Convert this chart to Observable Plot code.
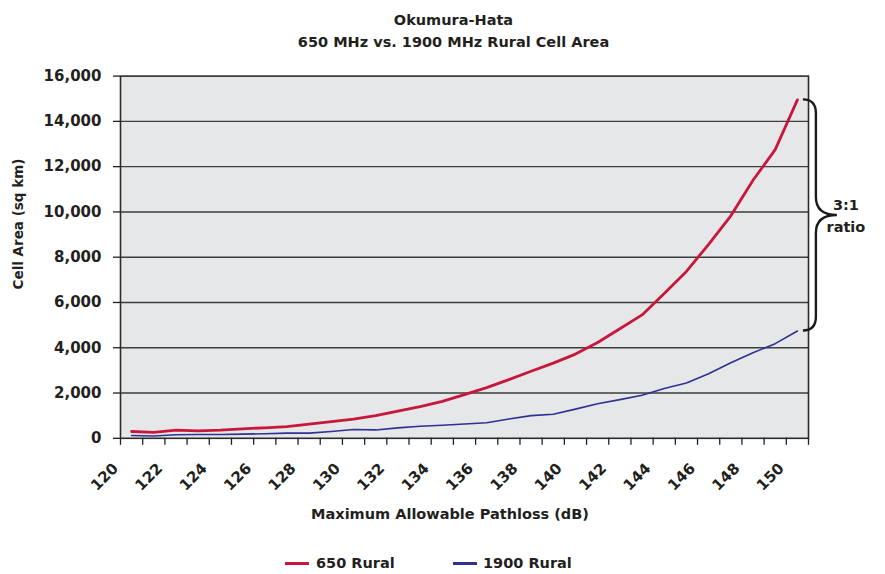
<!DOCTYPE html>
<html>
<head>
<meta charset="utf-8">
<script src="https://cdn.jsdelivr.net/npm/d3@7"></script>
<script src="https://cdn.jsdelivr.net/npm/@observablehq/plot@0.6"></script>
<style>
  body { margin: 0; background: #fff; font-family: "DejaVu Sans", sans-serif; font-weight: bold; color: #231f20; }
  #wrap { position: relative; width: 885px; height: 574px; overflow: hidden; }
  #title { position: absolute; left: 22px; top: 0; width: 863px; text-align: center; font-size: 14.5px; line-height: 22px; padding-top: 9px; }
  #chart { position: absolute; left: 0; top: 58px; }
  .key { position: absolute; top: 553px; font-size: 14.5px; line-height: 20px; white-space: nowrap; }
  .swatch { position: absolute; width: 24px; height: 3px; top: 9px; }
</style>
</head>
<body>
<div id="wrap">
  <div id="title">Okumura-Hata<br>650 MHz vs. 1900 MHz Rural Cell Area</div>
  <div id="chart"></div>
  <div class="key" style="left:285px"><span class="swatch" style="left:0;background:#c8173c"></span><span style="position:absolute;left:31px">650 Rural</span></div>
  <div class="key" style="left:453px"><span class="swatch" style="left:0;background:#2e3192;height:2.5px"></span><span style="position:absolute;left:30px">1900 Rural</span></div>
</div>
<script>
// Maximum allowable pathloss (dB), one category per dB
const pathloss = [120, 121, 122, 123, 124, 125, 126, 127, 128, 129, 130,
  131, 132, 133, 134, 135, 136, 137, 138, 139, 140,
  141, 142, 143, 144, 145, 146, 147, 148, 149, 150];

// Rural cell area (sq km) at 650 MHz
const rural650 = [300, 260, 360, 330, 360, 420, 465, 520, 625, 740, 850,
  1000, 1200, 1400, 1630, 1930, 2240, 2590, 2960, 3320, 3720,
  4230, 4840, 5450, 6400, 7370, 8570, 9830, 11400, 12750, 14950];

// Rural cell area (sq km) at 1900 MHz
const rural1900 = [125, 100, 155, 170, 170, 185, 200, 230, 230, 300, 390,
  370, 460, 530, 575, 630, 690, 850, 1000, 1060, 1290,
  1530, 1710, 1900, 2200, 2440, 2850, 3340, 3780, 4180, 4740];

// Axis ticks and labels
const yTicks = [0, 2000, 4000, 6000, 8000, 10000, 12000, 14000, 16000];
const gridTicks = [2000, 4000, 6000, 8000, 10000, 12000, 14000];
const xLabels = [120, 122, 124, 126, 128, 130, 132, 134, 136, 138, 140, 142, 144, 146, 148, 150];
const xBoundaries = pathloss.map(p => p - 0.5).concat([pathloss[pathloss.length - 1] + 0.5]);

const series650 = pathloss.map((p, i) => ({pathloss: p, area: rural650[i]}));
const series1900 = pathloss.map((p, i) => ({pathloss: p, area: rural1900[i]}));

const ink = "#231f20";

const chart = Plot.plot({
  width: 885,
  height: 470,
  marginLeft: 120,
  marginRight: 77,
  marginTop: 17.6,
  marginBottom: 90.2,
  style: {fontFamily: "DejaVu Sans", fontSize: "15px", fontWeight: "bold", color: ink, background: "transparent", overflow: "visible"},
  x: {domain: [119.5, 150.5], axis: null},
  y: {domain: [0, 16000], axis: null},
  marks: [
    Plot.frame({fill: "#e6e7e8"}),
    Plot.gridY(gridTicks, {stroke: "#3d3d3d", strokeOpacity: 1, strokeWidth: 1.4}),
    Plot.axisY({ticks: yTicks, tickSize: 7, tickPadding: 12, tickFormat: d3.format(","), label: null, strokeWidth: 1.3}),
    Plot.axisX({ticks: xBoundaries, tickSize: 7, tickFormat: () => "", label: null, strokeWidth: 1.3}),
    Plot.text(xLabels, {x: d => d, y: () => 0, text: d => String(d), rotate: -45, textAnchor: "end", lineAnchor: "bottom", dx: -12.5, dy: 31, fill: ink}),
    Plot.line(series1900, {x: "pathloss", y: "area", stroke: "#2e3192", strokeWidth: 1.6}),
    Plot.line(series650, {x: "pathloss", y: "area", stroke: "#c8173c", strokeWidth: 2.8}),
    Plot.frame({stroke: "#2b2b2b", strokeWidth: 1.6})
  ]
});

document.getElementById("chart").appendChild(chart);

const X = chart.scale("x").apply;
const Y = chart.scale("y").apply;
const svg = d3.select(chart);

// Axis titles
svg.append("text")
  .attr("transform", "translate(18,166) rotate(-90)")
  .attr("text-anchor", "middle")
  .attr("dominant-baseline", "central")
  .attr("font-size", "13.5px")
  .attr("fill", ink)
  .text("Cell Area (sq km)");

svg.append("text")
  .attr("x", 450)
  .attr("y", 461)
  .attr("text-anchor", "middle")
  .attr("font-size", "14.5px")
  .attr("fill", ink)
  .text("Maximum Allowable Pathloss (dB)");

// Curly brace spanning the two end values, with the ratio note
const last = pathloss[pathloss.length - 1];
const yT = Y(rural650[rural650.length - 1]);
const yB = Y(rural1900[rural1900.length - 1]);
const yM = (yT + yB) / 2;
const x0 = X(last) + 6, x1 = X(last) + 19, x2 = X(last) + 40;
svg.append("path")
  .attr("d", `M${x0},${yT} Q${x1},${yT} ${x1},${yT + 14} L${x1},${yM - 18} Q${x1},${yM} ${x2},${yM} Q${x1},${yM} ${x1},${yM + 18} L${x1},${yB - 14} Q${x1},${yB} ${x0},${yB}`)
  .attr("fill", "none")
  .attr("stroke", "#1a1a1a")
  .attr("stroke-width", 2.4);

const ratio = (rural650[rural650.length - 1] / rural1900[rural1900.length - 1]).toFixed(0);
svg.append("text").attr("x", x2 + 9).attr("y", yM - 4.5).attr("font-size", "14.5px").attr("fill", ink).text(`${ratio}:1`);
svg.append("text").attr("x", x2 + 9).attr("y", yM + 17.5).attr("font-size", "14.5px").attr("fill", ink).text("ratio");
</script>
</body>
</html>
